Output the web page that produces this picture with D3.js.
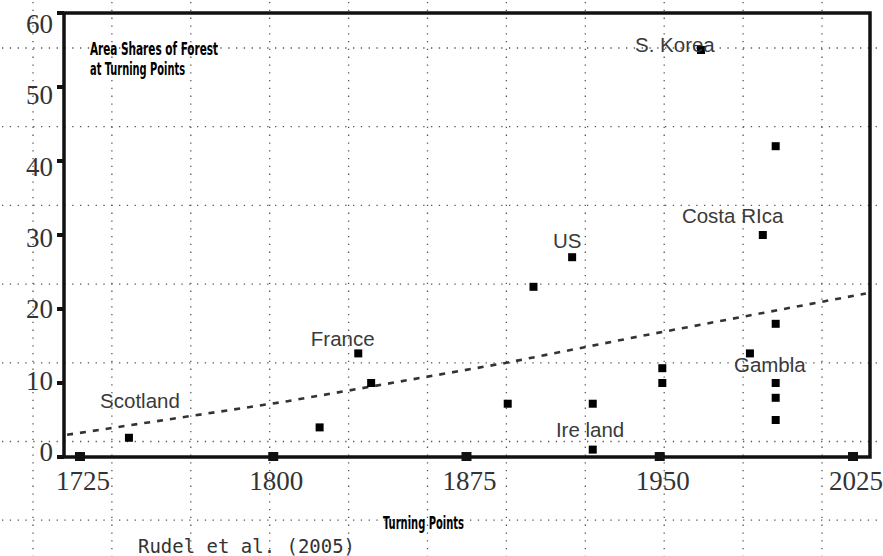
<!DOCTYPE html>
<html>
<head>
<meta charset="utf-8">
<script src="https://cdn.jsdelivr.net/npm/d3@7"></script>
<style>
  body { margin: 0; background: #fff; }
  svg { display: block; }
</style>
</head>
<body>
<svg id="chart"></svg>
<script>
// forest turning points
const years  = [1744, 1818, 1833, 1838, 1891, 1901, 1916, 1924, 1924, 1951, 1951, 1966, 1985, 1990, 1995, 1995, 1995, 1995, 1995];
const shares = [2.6, 4, 14, 10, 7.2, 23, 27, 7.2, 1, 12, 10, 55, 14, 30, 42, 18, 10, 8, 5];

// dashed trend line (read at a few spots)
const trendYears  = [1720, 1805, 1890, 1942, 2030];
const trendShares = [3.0, 7.5, 12.7, 16.3, 22.1];

const xTicks = [1725, 1800, 1875, 1950, 2025];
const yTicks = [0, 10, 20, 30, 40, 50, 60];

// country labels, anchored in data units (left/baseline of text)
const labelNames  = ["S. Korea", "US", "Costa RIca", "France", "Scotland", "Gambla", "Ire land"];
const labelYears  = [1940.4, 1908.6, 1958.6, 1814.6, 1732.8, 1978.8, 1909.7];
const labelShares = [54.7, 28.2, 31.6, 15.0, 6.6, 11.5, 2.7];

const W = 883, H = 556;
const plot = { left: 64, right: 870, top: 13, bottom: 457 };

const svg = d3.select("#chart").attr("width", W).attr("height", H);

const x = d3.scaleLinear().domain([1718.8, 2031.6]).range([plot.left, plot.right]);
const y = d3.scaleLinear().domain([0, 60]).range([plot.bottom, plot.top]);
// the scanned tick numbers drift a bit from the tick marks
const yLab = d3.scaleLinear().domain([0, 60]).range([461, 33]);

//page grid of the slide (dotted, covers everything)
const grid = svg.append("g").attr("stroke", "#555").attr("stroke-width", 1.3)
  .attr("stroke-dasharray", "1.3,6.5");
grid.selectAll("line.v").data(d3.range(33, W, 78.9)).enter().append("line")
  .attr("x1", d => d).attr("x2", d => d).attr("y1", 2).attr("y2", H);
grid.selectAll("line.h").data(d3.range(48, H, 78.7)).enter().append("line")
  .attr("y1", d => d).attr("y2", d => d).attr("x1", 2).attr("x2", W);

// frame
svg.append("rect")
  .attr("x", plot.left).attr("y", plot.top)
  .attr("width", plot.right - plot.left).attr("height", plot.bottom - plot.top)
  .attr("fill", "none").attr("stroke", "#111").attr("stroke-width", 3.5);

// y ticks + labels
svg.selectAll("rect.yt").data(yTicks).enter().append("rect")
  .attr("x", plot.left - 7).attr("y", d => y(d) - 2)
  .attr("width", 7).attr("height", 4).attr("fill", "#111");
svg.selectAll("text.yl").data(yTicks).enter().append("text")
  .attr("x", 53).attr("y", d => yLab(d))
  .attr("text-anchor", "end")
  .style("font-family", "'Liberation Serif', 'DejaVu Serif', serif")
  .style("font-size", "27px").attr("fill", "#333")
  .text(d => d);

// x ticks (square markers on the axis) + labels
svg.selectAll("rect.xt").data(xTicks).enter().append("rect")
  .attr("x", d => x(d) - 5).attr("y", plot.bottom - 5)
  .attr("width", 10).attr("height", 9).attr("fill", "#111");
svg.selectAll("text.xl").data(xTicks).enter().append("text")
  .attr("x", d => x(d) + 3).attr("y", 490)
  .attr("text-anchor", "middle")
  .style("font-family", "'Liberation Serif', 'DejaVu Serif', serif")
  .style("font-size", "27px").attr("fill", "#333")
  .text(d => d);

// trend line
const trend = trendYears.map((d, i) => [d, trendShares[i]]);
svg.append("path").datum(trend)
  .attr("d", d3.line().x(d => x(d[0])).y(d => y(d[1])))
  .attr("fill", "none").attr("stroke", "#333").attr("stroke-width", 2.6)
  .attr("stroke-dasharray", "6,7");

// points
const pts = years.map((d, i) => ({ year: d, share: shares[i] }));
svg.selectAll("rect.pt").data(pts).enter().append("rect")
  .attr("x", d => x(d.year) - 4).attr("y", d => y(d.share) - 4)
  .attr("width", 8).attr("height", 8).attr("fill", "#000");

// country labels
svg.selectAll("text.lab").data(labelNames).enter().append("text")
  .attr("x", (d, i) => x(labelYears[i])).attr("y", (d, i) => y(labelShares[i]))
  .style("font-family", "'Liberation Sans', Arial, sans-serif")
  .style("font-size", "20.5px").attr("fill", "#3a3a3a")
  .text(d => d);

// title (condensed bold)
const condensed = "'DejaVu Sans Condensed', 'DejaVu Sans', sans-serif";
function narrowText(str, tx, ty, len, size) {
  svg.append("text").attr("x", tx).attr("y", ty)
    .attr("textLength", len).attr("lengthAdjust", "spacingAndGlyphs")
    .style("font-family", condensed).style("font-weight", "bold")
    .style("font-size", size + "px").style("font-stretch", "condensed")
    .attr("fill", "#000").text(str);
}
narrowText("Area Shares of Forest", 90, 55, 128, 18);
narrowText("at Turning Points", 90, 75, 95, 18);
narrowText("Turning Points", 383, 529, 81, 18);

// source
svg.append("text").attr("x", 138).attr("y", 553)
  .attr("textLength", 217).attr("lengthAdjust", "spacingAndGlyphs")
  .style("font-family", "'DejaVu Sans Mono', 'Liberation Mono', monospace")
  .style("font-size", "19px").attr("fill", "#333")
  .text("Rudel et al. (2005)");
</script>
</body>
</html>
